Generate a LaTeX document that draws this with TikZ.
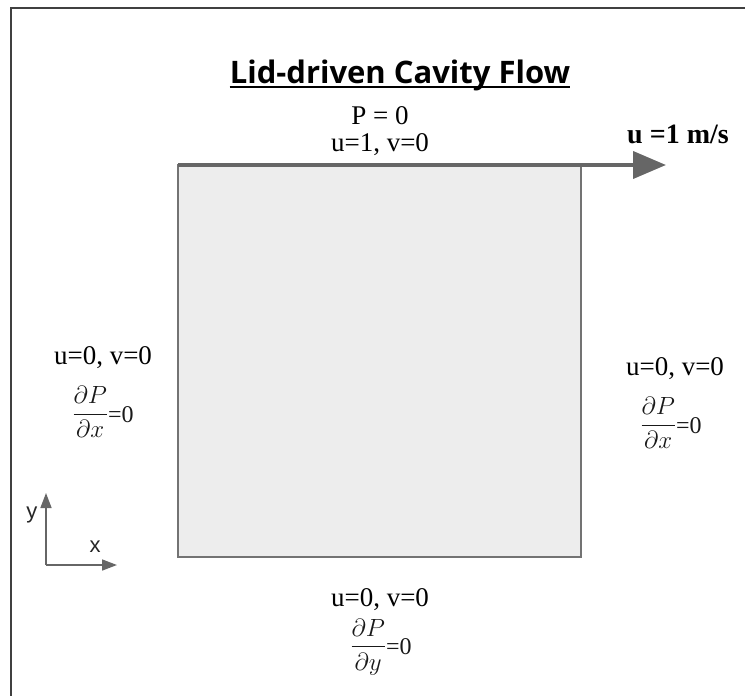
\documentclass[tikz,border=0pt]{standalone}
\usepackage{amsmath}
\usepackage{fontspec}
\setmainfont{Liberation Serif}
\newfontfamily\titlefont{Open Sans}
\newfontfamily\axisfont{Liberation Sans}
\usetikzlibrary{arrows.meta, positioning, calc}
\tikzstyle{arrow} = [draw=black!60, line width=1.6pt, -{Triangle[length=15pt, width=11pt]}]
\newcommand{\eqzero}{\vcenter{\hbox{\fontsize{24}{24}\selectfont=0}}}

\begin{document}
\begin{tikzpicture}[
  x=1pt, y=-1pt,
  lbl/.style={font=\fontsize{27}{28}\selectfont, inner sep=0pt},
  frac/.style={font=\fontsize{23}{26}\selectfont, inner sep=0pt, text=black!90},
  cavity/.style={draw=black!55, fill=black!7, line width=1.5pt, minimum width=403pt, minimum height=392pt, inner sep=0pt, outer sep=0pt},
  lid/.style={draw=black!60, line width=4pt, -{Triangle[length=33pt, width=27pt]}},
  axlbl/.style={font=\axisfont\fontsize{22}{24}\selectfont, inner sep=0pt, text=black!85}
]
\useasboundingbox (0,0) rectangle (745,696);

% Frame
\draw[black!75, line width=2pt] (10.5,696) -- (10.5,8) -- (745,8);

% Title
\node[font=\titlefont\bfseries\fontsize{31}{34}\selectfont, inner sep=0pt, anchor=base] (title) at (400,83) {Lid-driven Cavity Flow};
\draw[line width=2pt] ([yshift=-3.5pt]title.base west) -- ([yshift=-3.5pt]title.base east);

% Cavity and moving lid
\node[cavity] (cav) at (379.5,361) {};
\coordinate (lidend) at (666,165);
\draw[lid] (cav.north west) -- (lidend);

\node[lbl] (ptop) at (380,116) {P = 0};
\node[lbl] (utop) at (380,145) {u=1, v=0};
\node[lbl, font=\bfseries\fontsize{28}{30}\selectfont] (ulid) at (678,134) {u =1 m/s};

% Walls
\node[lbl] (uleft) at (103,358) {u=0, v=0};
\node[frac] (pleft) at (103,412) {$\dfrac{\partial P}{\partial x}\eqzero$};

\node[lbl] (uright) at (675,369) {u=0, v=0};
\node[frac] (pright) at (671,423) {$\dfrac{\partial P}{\partial x}\eqzero$};

\node[lbl] (ubot) at (380,600) {u=0, v=0};
\node[frac] (pbot) at (381,647) {$\dfrac{\partial P}{\partial y}\eqzero$};

% Axes
\coordinate (o) at (46,565);
\coordinate (ytip) at (46,493);
\coordinate (xtip) at (117,565);
\draw[arrow] (o) -- (ytip);
\draw[arrow] (o) -- (xtip);
\node[axlbl] (ylbl) at (32,515) {y};
\node[axlbl] (xlbl) at (95,547) {x};

\end{tikzpicture}
\end{document}
